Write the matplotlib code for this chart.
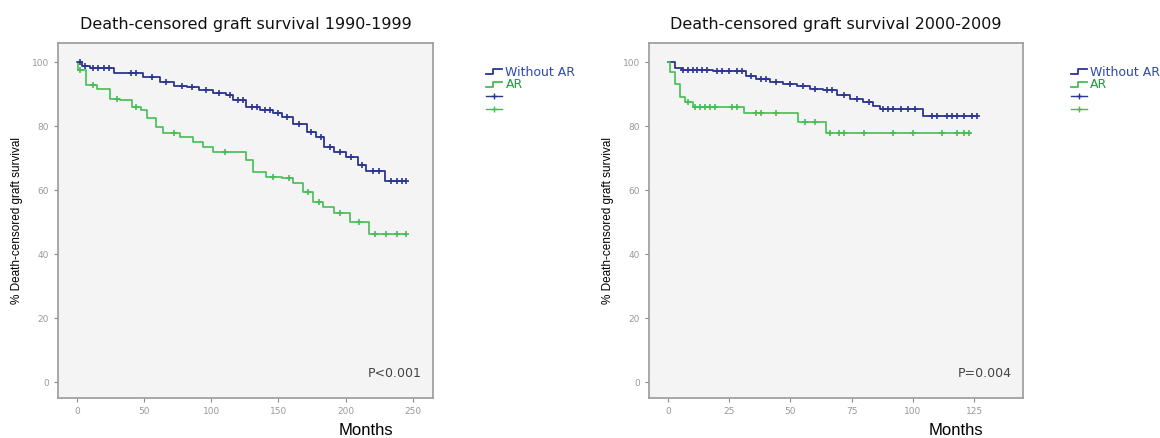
import matplotlib
matplotlib.use("Agg")
import matplotlib.pyplot as plt
import numpy as np
from matplotlib.lines import Line2D
from matplotlib.legend_handler import HandlerBase

# Kaplan-Meier steps (months, % survival)
t90_noar = [0, 3.5, 9.7, 28, 49, 62, 72, 82, 91, 101, 111, 116, 126, 136, 146, 153, 161, 171, 178, 184, 191, 200, 209, 215, 229, 245]
s90_noar = [100, 98.9, 98.2, 96.7, 95.4, 93.9, 92.5, 92.1, 91.3, 90.4, 89.9, 88.1, 86.0, 85.0, 84.0, 82.9, 80.8, 78.2, 76.7, 73.5, 72.0, 70.4, 67.8, 66.0, 63.0, 63.0]
t90_ar = [0, 1, 7, 15, 24.5, 32, 41, 48, 52, 59, 64, 77, 86.5, 94, 101, 126, 131, 141, 153, 161, 168, 176, 183, 191, 203, 217, 245]
s90_ar = [100, 97.5, 92.8, 91.5, 88.6, 88.1, 86.0, 85.0, 82.4, 79.8, 77.9, 76.7, 75.1, 73.5, 72.0, 69.4, 65.7, 64.2, 63.7, 62.1, 59.5, 56.3, 54.8, 52.7, 50.1, 46.2, 46.2]

t00_noar = [0, 2.9, 5.6, 18.5, 32, 36, 41.6, 47, 52.5, 58, 63.4, 69, 74.3, 79.7, 83.8, 86.5, 104.2, 126]
s00_noar = [100, 98.2, 97.6, 97.2, 95.6, 94.9, 93.9, 93.3, 92.5, 91.6, 91.3, 89.9, 88.6, 87.6, 86.3, 85.5, 83.1, 83.1]
t00_ar = [0, 0.8, 2.9, 4.9, 6.9, 10.3, 31, 53.2, 64.5, 123.3]
s00_ar = [100, 97, 93.3, 89.2, 87.6, 86.0, 84.0, 81.4, 77.9, 77.9]

# censored observations (months)
c90_noar = [2, 6, 12, 16, 20, 24, 40, 44, 56, 66, 78, 86, 96, 106, 114, 120, 124, 130, 134, 140, 144, 150, 156, 165, 174, 182, 188, 196, 204, 212, 220, 225, 234, 238, 242, 245]
c90_ar = [2, 12, 30, 44, 72, 110, 146, 158, 172, 180, 196, 210, 222, 230, 238, 245]
c00_noar = [6, 8, 10, 12, 14, 16, 20, 22, 25, 28, 30, 34, 38, 40, 44, 50, 55, 60, 65, 67, 72, 77, 82, 88, 90, 92, 95, 98, 101, 108, 110, 114, 116, 118, 121, 124, 126]
c00_ar = [8, 11, 13, 15, 17, 19, 26, 28, 36, 38, 44, 56, 60, 66, 70, 72, 80, 92, 100, 112, 118, 121, 123]

blue = "#2b3592"
green = "#45bd55"
blue_txt = "#2c4aa8"
green_txt = "#1d9a3a"
grey = "#8a8a8a"


class StepHandler(HandlerBase):
    def create_artists(self, legend, orig, xd, yd, w, h, fontsize, trans):
        x = [0, 0.45 * w, 0.45 * w, w]
        y = [0.15 * h, 0.15 * h, 0.75 * h, 0.75 * h]
        ln = Line2D(x, y, color=orig.get_color(), lw=1.3, transform=trans)
        return [ln]


def km_value(times, surv, t):
    i = np.searchsorted(times, t, side="right") - 1
    return surv[max(i, 0)]


def panel(ax, tn, sn, cn, ta, sa, ca, xticks, xlim, title, ptxt, legx):
    ax.set_facecolor("#f4f4f4")
    ax.step(tn, sn, where="post", color=blue, lw=1.3)
    ax.step(ta, sa, where="post", color=green, lw=1.2)
    ax.plot(cn, [km_value(tn, sn, c) for c in cn], "+", color=blue, ms=4, mew=1.2)
    ax.plot(ca, [km_value(ta, sa, c) for c in ca], "+", color=green, ms=4, mew=1.2)
    ax.set_xlim(*xlim)
    ax.set_ylim(-5, 106)
    ax.set_xticks(xticks)
    ax.set_yticks([0, 20, 40, 60, 80, 100])
    ax.tick_params(labelsize=6.5, colors=grey, length=3, width=0.8, labelcolor="#999999")
    for s in ax.spines.values():
        s.set_color("#9a9a9a")
        s.set_linewidth(1.2)
    ax.set_title(title, fontsize=11.5, pad=10, color="#111111")
    ax.set_ylabel("% Death-censored graft survival", fontsize=8.5,
                  family=["Liberation Sans Narrow", "Liberation Sans"], labelpad=6)
    ax.text(0.97, 0.05, ptxt, transform=ax.transAxes, ha="right", va="bottom",
            fontsize=9, color="#444444")
    ax.text(0.82, -0.092, "Months", transform=ax.transAxes, ha="center", va="center",
            fontsize=12, family="Liberation Sans")
    handles = [Line2D([], [], color=blue), Line2D([], [], color=green),
               Line2D([], [], color=blue, marker="+", ms=5, lw=1),
               Line2D([], [], color=green, marker="+", ms=5, lw=1)]
    leg = ax.legend(handles, ["Without AR", "AR", " ", " "],
                    handler_map={handles[0]: StepHandler(), handles[1]: StepHandler()},
                    loc="upper left", bbox_to_anchor=(legx, 0.95), frameon=False,
                    handlelength=1.3, handletextpad=0.25, labelspacing=-0.05,
                    fontsize=9, borderaxespad=0)
    for txt, c in zip(leg.get_texts(), [blue_txt, green_txt, blue, green]):
        txt.set_color(c)


fig = plt.figure(figsize=(11.6, 4.38), dpi=100)
ax1 = fig.add_axes([0.050, 0.0913, 0.3233, 0.8105])
ax2 = fig.add_axes([0.5595, 0.0913, 0.3224, 0.8105])

panel(ax1, t90_noar, s90_noar, c90_noar, t90_ar, s90_ar, c90_ar,
      [0, 50, 100, 150, 200, 250], (-14, 265),
      "Death-censored graft survival 1990-1999", "P<0.001", 1.128)
panel(ax2, t00_noar, s00_noar, c00_noar, t00_ar, s00_ar, c00_ar,
      [0, 25, 50, 75, 100, 125], (-7.8, 145),
      "Death-censored graft survival 2000-2009", "P=0.004", 1.115)

fig.savefig("out.png", dpi=100)
